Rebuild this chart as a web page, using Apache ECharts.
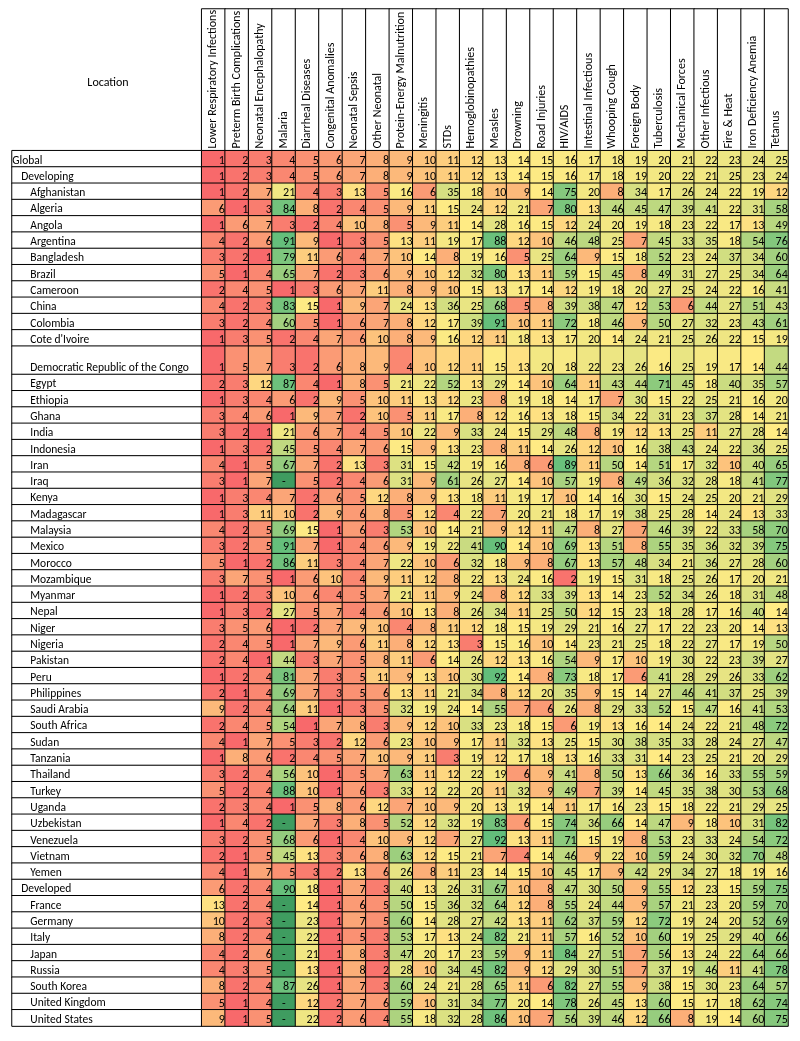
<!DOCTYPE html>
<html><head><meta charset="utf-8">
<script src="https://cdn.jsdelivr.net/npm/echarts@6/dist/echarts.min.js"></script>
<style>html,body{margin:0;padding:0;background:#fff}#c{width:800px;height:1041px}</style>
</head><body><div id="c"></div><script>
const causes = ['Lower Respiratory Infections','Preterm Birth Complications','Neonatal Encephalopathy','Malaria','Diarrheal Diseases','Congenital Anomalies','Neonatal Sepsis','Other Neonatal','Protein-Energy Malnutrition','Meningitis','STDs','Hemoglobinopathies','Measles','Drowning','Road Injuries','HIV/AIDS','Intestinal Infectious','Whooping Cough','Foreign Body','Tuberculosis','Mechanical Forces','Other Infectious','Fire & Heat','Iron Deficiency Anemia','Tetanus'];

const globalRanks     = [1,2,3,4,5,6,7,8,9,10,11,12,13,14,15,16,17,18,19,20,21,22,23,24,25];
const developingRanks = [1,2,3,4,5,6,7,8,9,10,11,12,13,14,15,16,17,18,19,20,22,21,25,23,24];
const developedRanks  = [6,2,4,90,18,1,7,3,40,13,26,31,67,10,8,47,30,50,9,55,12,23,15,59,75];

const developingCountries = ['Afghanistan','Algeria','Angola','Argentina','Bangladesh','Brazil','Cameroon','China','Colombia',"Cote d'Ivoire",'Democratic Republic of the Congo','Egypt','Ethiopia','Ghana','India','Indonesia','Iran','Iraq','Kenya','Madagascar','Malaysia','Mexico','Morocco','Mozambique','Myanmar','Nepal','Niger','Nigeria','Pakistan','Peru','Philippines','Saudi Arabia','South Africa','Sudan','Tanzania','Thailand','Turkey','Uganda','Uzbekistan','Venezuela','Vietnam','Yemen'];
const developingCountryRanks = [
 [1,2,7,21,4,3,13,5,16,6,35,18,10,9,14,75,20,8,34,17,26,24,22,19,12],
 [6,1,3,84,8,2,4,5,9,11,15,24,12,21,7,80,13,46,45,47,39,41,22,31,58],
 [1,6,7,3,2,4,10,8,5,9,11,14,28,16,15,12,24,20,19,18,23,22,17,13,49],
 [4,2,6,91,9,1,3,5,13,11,19,17,88,12,10,46,48,25,7,45,33,35,18,54,76],
 [3,2,1,79,11,6,4,7,10,14,8,19,16,5,25,64,9,15,18,52,23,24,37,34,60],
 [5,1,4,65,7,2,3,6,9,10,12,32,80,13,11,59,15,45,8,49,31,27,25,34,64],
 [2,4,5,1,3,6,7,11,8,9,10,15,13,17,14,12,19,18,20,27,25,24,22,16,41],
 [4,2,3,83,15,1,9,7,24,13,36,25,68,5,8,39,38,47,12,53,6,44,27,51,43],
 [3,2,4,60,5,1,6,7,8,12,17,39,91,10,11,72,18,46,9,50,27,32,23,43,61],
 [1,3,5,2,4,7,6,10,8,9,16,12,11,18,13,17,20,14,24,21,25,26,22,15,19],
 [1,5,7,3,2,6,8,9,4,10,12,11,15,13,20,18,22,23,26,16,25,19,17,14,44],
 [2,3,12,87,4,1,8,5,21,22,52,13,29,14,10,64,11,43,44,71,45,18,40,35,57],
 [1,3,4,6,2,9,5,10,11,13,12,23,8,19,18,14,17,7,30,15,22,25,21,16,20],
 [3,4,6,1,9,7,2,10,5,11,17,8,12,16,13,18,15,34,22,31,23,37,28,14,21],
 [3,2,1,21,6,7,4,5,10,22,9,33,24,15,29,48,8,19,12,13,25,11,27,28,14],
 [1,3,2,45,5,4,7,6,15,9,13,23,8,11,14,26,12,10,16,38,43,24,22,36,25],
 [4,1,5,67,7,2,13,3,31,15,42,19,16,8,6,89,11,50,14,51,17,32,10,40,65],
 [3,1,7,null,5,2,4,6,31,9,61,26,27,14,10,57,19,8,49,36,32,28,18,41,77],
 [1,3,4,7,2,6,5,12,8,9,13,18,11,19,17,10,14,16,30,15,24,25,20,21,29],
 [1,3,11,10,2,9,6,8,5,12,4,22,7,20,21,18,17,19,38,25,28,14,24,13,33],
 [4,2,5,69,15,1,6,3,53,10,14,21,9,12,11,47,8,27,7,46,39,22,33,58,70],
 [3,2,5,91,7,1,4,6,9,19,22,41,90,14,10,69,13,51,8,55,35,36,32,39,75],
 [5,1,2,86,11,3,4,7,22,10,6,32,18,9,8,67,13,57,48,34,21,36,27,28,60],
 [3,7,5,1,6,10,4,9,11,12,8,22,13,24,16,2,19,15,31,18,25,26,17,20,21],
 [1,2,3,10,6,4,5,7,21,11,9,24,8,12,33,39,13,14,23,52,34,26,18,31,48],
 [1,3,2,27,5,7,4,6,10,13,8,26,34,11,25,50,12,15,23,18,28,17,16,40,14],
 [3,5,6,1,2,7,9,10,4,8,11,12,18,15,19,29,21,16,27,17,22,23,20,14,13],
 [2,4,5,1,7,9,6,11,8,12,13,3,15,16,10,14,23,21,25,18,22,27,17,19,50],
 [2,4,1,44,3,7,5,8,11,6,14,26,12,13,16,54,9,17,10,19,30,22,23,39,27],
 [1,2,4,81,7,3,5,11,9,13,10,30,92,14,8,73,18,17,6,41,28,29,26,33,62],
 [2,1,4,69,7,3,5,6,13,11,21,34,8,12,20,35,9,15,14,27,46,41,37,25,39],
 [9,2,4,64,11,1,3,5,32,19,24,14,55,7,6,26,8,29,33,52,15,47,16,41,53],
 [2,4,5,54,1,7,8,3,9,12,10,33,23,18,15,6,19,13,16,14,24,22,21,48,72],
 [4,1,7,5,3,2,12,6,23,10,9,17,11,32,13,25,15,30,38,35,33,28,24,27,47],
 [1,8,6,2,4,5,7,10,9,11,3,19,12,17,18,13,16,33,31,14,23,25,21,20,29],
 [3,2,4,56,10,1,5,7,63,11,12,22,19,6,9,41,8,50,13,66,36,16,33,55,59],
 [5,2,4,88,10,1,6,3,33,12,22,20,11,32,9,49,7,39,14,45,35,38,30,53,68],
 [2,3,4,1,5,8,6,12,7,10,9,20,13,19,14,11,17,16,23,15,18,22,21,29,25],
 [1,4,2,null,7,3,8,5,52,12,32,19,83,6,15,74,36,66,14,47,9,18,10,31,82],
 [3,2,5,68,6,1,4,10,9,12,7,27,92,13,11,71,15,19,8,53,23,33,24,54,72],
 [2,1,5,45,13,3,6,8,63,12,15,21,7,4,14,46,9,22,10,59,24,30,32,70,48],
 [4,1,7,5,3,2,13,6,26,8,11,23,14,15,10,45,17,9,42,29,34,27,18,19,16]
];
const developedCountries = ['France','Germany','Italy','Japan','Russia','South Korea','United Kingdom','United States'];
const developedCountryRanks = [
 [13,2,4,null,14,1,6,5,50,15,36,32,64,12,8,55,24,44,9,57,21,23,20,59,70],
 [10,2,3,null,23,1,7,5,60,14,28,27,42,13,11,62,37,59,12,72,19,24,20,52,69],
 [8,2,4,null,22,1,5,3,53,17,13,24,82,21,11,57,16,52,10,60,19,25,29,40,66],
 [4,2,6,null,21,1,8,3,47,20,17,23,59,9,11,84,27,51,7,56,13,24,22,64,66],
 [4,3,5,null,13,1,8,2,28,10,34,45,82,9,12,29,30,51,7,37,19,46,11,41,78],
 [8,2,4,87,26,1,7,3,60,24,21,28,65,11,6,82,27,55,9,38,15,30,23,64,57],
 [5,1,4,null,12,2,7,6,59,10,31,34,77,20,14,78,26,45,13,60,15,17,18,62,74],
 [9,1,5,null,22,2,6,4,55,18,32,28,86,10,7,56,39,46,12,66,8,19,14,60,75]
];
const tallRows = ['Democratic Republic of the Congo'];

// ---- assemble rows ----
const rows = [{name:'Global',level:0,ranks:globalRanks},{name:'Developing',level:1,ranks:developingRanks}]
  .concat(developingCountries.map((n,i)=>({name:n,level:2,ranks:developingCountryRanks[i]})))
  .concat([{name:'Developed',level:1,ranks:developedRanks}])
  .concat(developedCountries.map((n,i)=>({name:n,level:2,ranks:developedCountryRanks[i]})));

// ---- colour scale (3-colour: min red, 50th percentile yellow, max green) ----
const nums = [];
rows.forEach(r=>r.ranks.forEach(v=>{ if(v!=null) nums.push(v); }));
nums.sort((a,b)=>a-b);
const vMin = nums[0], vMax = nums[nums.length-1];
const pos = (nums.length-1)*0.5, lo = Math.floor(pos);
const vMid = nums[lo] + (nums[Math.min(lo+1,nums.length-1)]-nums[lo])*(pos-lo);
const RED=[248,105,107], YEL=[255,235,132], GRN=[99,190,123];
const NA_COLOR = '#3f9c60';
function mix(a,b,t){return 'rgb('+a.map((x,i)=>Math.round(x+(b[i]-x)*t)).join(',')+')';}
function colorFor(v){
  if(v==null) return NA_COLOR;
  if(v<=vMid) return mix(RED,YEL,(v-vMin)/(vMid-vMin));
  return mix(YEL,GRN,(v-vMid)/(vMax-vMid));
}

// ---- layout ----
const FONT = 'Carlito, Lato, "Open Sans", sans-serif';
const FS = 12, FS_LOC = 11.5;
const X0 = 12, X1 = 201.7, X2 = 788;
const HDR_TOP = 9, BODY_TOP = 150.7, ROW_H = 16.29, TALL_H = 28.3;

const segments = [];
let cur = [];
rows.forEach(r=>{
  if(tallRows.includes(r.name)){ if(cur.length) segments.push({rows:cur,tall:false}); segments.push({rows:[r],tall:true}); cur=[]; }
  else cur.push(r);
});
if(cur.length) segments.push({rows:cur,tall:false});

const grids=[], xAxes=[], yAxes=[], series=[];
function addGrid(left,width,top,height,xc,yc){
  const i=grids.length;
  grids.push({left,top,width,height});
  xAxes.push({type:'category',gridIndex:i,data:xc,show:false});
  yAxes.push({type:'category',gridIndex:i,data:yc,inverse:true,show:false});
  return i;
}
const border = {borderColor:'#000',borderWidth:1};
const common = {type:'heatmap',animation:false,progressive:0,emphasis:{disabled:true},silent:true};

// header
const gh = addGrid(X1, X2-X1, HDR_TOP, BODY_TOP-HDR_TOP, causes, ['header']);
series.push(Object.assign({},common,{
  xAxisIndex:gh,yAxisIndex:gh,
  itemStyle:border,
  data:causes.map((c,j)=>({value:[j,0,0],itemStyle:{color:'#fff'},txt:c})),
  label:{show:true,rotate:90,position:'insideBottom',distance:3,align:'left',verticalAlign:'middle',
    color:'#000',fontFamily:FONT,fontSize:FS,formatter:p=>p.data.txt}
}));

let y = BODY_TOP;
segments.forEach(seg=>{
  const names = seg.rows.map(r=>r.name);
  const h = seg.tall ? TALL_H : seg.rows.length*ROW_H;
  const gl = addGrid(X0, X1-X0, y, h, ['Location'], names);
  const gd = addGrid(X1, X2-X1, y, h, causes, names);
  series.push(Object.assign({},common,{
    xAxisIndex:gl,yAxisIndex:gl,itemStyle:border,
    data:seg.rows.map((r,i)=>({value:[0,i,0],itemStyle:{color:'#fff'},txt:'{l'+r.level+'|'+r.name+'}'})),
    label:{show:true,position:'insideBottomLeft',distance:1,color:'#000',fontFamily:FONT,fontSize:FS_LOC,
      formatter:p=>p.data.txt,
      rich:{l0:{fontFamily:FONT,fontSize:FS_LOC,color:'#000',padding:[0,0,0,0]},
            l1:{fontFamily:FONT,fontSize:FS_LOC,color:'#000',padding:[0,0,0,9]},
            l2:{fontFamily:FONT,fontSize:FS_LOC,color:'#000',padding:[0,0,0,18]}}}
  }));
  const data=[];
  seg.rows.forEach((r,i)=>r.ranks.forEach((v,j)=>{
    const item={value:[j,i,v==null?0:v],itemStyle:{color:colorFor(v)},txt:v==null?'-':String(v)};
    if(v==null) item.label={position:'insideBottom'};
    data.push(item);
  }));
  series.push(Object.assign({},common,{
    xAxisIndex:gd,yAxisIndex:gd,itemStyle:border,data,
    label:{show:true,position:'insideBottomRight',distance:1,color:'#000',fontFamily:FONT,fontSize:FS,formatter:p=>p.data.txt}
  }));
  y += h;
});

const chart = echarts.init(document.getElementById('c'),null,{renderer:'canvas'});
chart.setOption({
  animation:false,
  backgroundColor:'#fff',
  grid:grids, xAxis:xAxes, yAxis:yAxes, series,
  graphic:[{type:'text',x:108,y:83,
    style:{text:'Location',align:'center',verticalAlign:'middle',font:FS+'px '+FONT,fill:'#000'}}]
});
</script></body></html>
